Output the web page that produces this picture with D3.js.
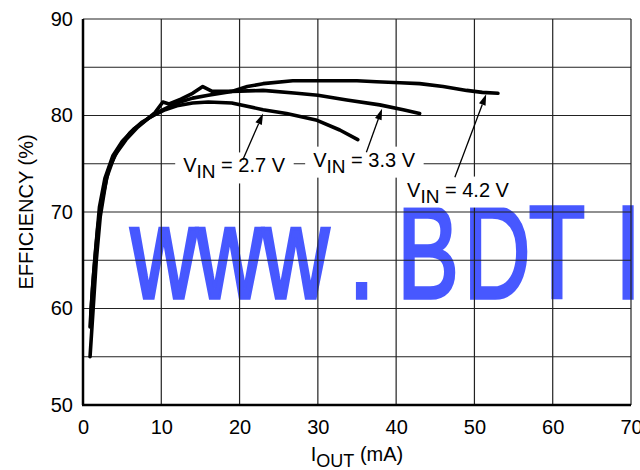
<!DOCTYPE html>
<html><head><meta charset="utf-8">
<script src="https://cdn.jsdelivr.net/npm/d3@7"></script>
<style>
html,body{margin:0;padding:0;background:#fff;}
svg{display:block;font-family:"Liberation Sans",Arial,sans-serif;}
</style></head>
<body><svg id="c" width="640" height="470"></svg>
<script>
// ---- data ----
const xTicks = [0,10,20,30,40,50,60,70];
const yTicks = [50,60,70,80,90];
const yGrid = [50,55,60,65,70,75,80,85,90];

const curve42 = [[0.9,55.0],[1.3,60],[1.7,65],[2.2,69.5],[3,73.5],[4,75.8],[5.5,77.5],[7,78.8],[8.5,79.8],[10,80.5],[12,81.3],[14,81.8],[16,82.1],[19,82.5],[21,83.0],[23,83.3],[26.8,83.6],[30,83.6],[35,83.6],[37.5,83.5],[40.5,83.4],[43,83.3],[46,83.0],[49,82.6],[51,82.4],[53,82.3]];
const curve33 = [[0.9,58.1],[1.2,62],[1.6,66],[2.1,70.5],[2.8,73.5],[3.8,75.8],[5,77.3],[6.5,78.6],[8,79.5],[9.2,80.3],[10.2,81.4],[11,81.2],[12.5,81.7],[14,82.3],[15.3,83.0],[16.5,82.5],[19,82.5],[23,82.6],[27.3,82.3],[30,82.1],[33.7,81.6],[37.9,81.1],[40.9,80.6],[43,80.2]];
const curve27 = [[1.0,59.5],[1.4,64],[1.9,68.5],[2.5,71.5],[3.3,74.5],[4.5,76.5],[6,78.2],[7.5,79.3],[9,80.0],[10.5,80.6],[12,81.0],[14,81.3],[16,81.4],[19,81.3],[23,80.6],[26,80.2],[29.9,79.5],[32.8,78.5],[35.1,77.5]];

const seriesNames = ["2.7 V","3.3 V","4.2 V"];
const seriesData = [curve27, curve33, curve42];
// annotation anchors in data units: label baseline start, arrow tail, arrow tip
const annotations = [
  {name:"2.7 V", lx:12.8, ly:74.1, tx:20.4, ty:75.4, px:23.0, py:80.2},
  {name:"3.3 V", lx:29.4, ly:74.7, tx:36.2, ty:76.2, px:38.2, py:80.7},
  {name:"4.2 V", lx:41.4, ly:71.6, tx:47.5, ty:73.6, px:51.5, py:82.2}
];
const watermark = "www.BDTI";

// ---- chart ----
const svg = d3.select("#c");
const x = d3.scaleLinear().domain([0,70]).range([83,631]);
const y = d3.scaleLinear().domain([50,90]).range([405,19]);

// watermark (under grid)
const sx = 0.7;
const wmTargets = [131,197,263,361.5,404,471,531,624];
const lsb = [0.006,0.006,0.006,0.139,0.073,0.079,0.023,0.094];
const fs = 132;
svg.append("text")
  .attr("transform", `scale(${sx},1)`)
  .attr("x", wmTargets.map((t,i)=> (t/sx - lsb[i]*fs).toFixed(1)).join(" "))
  .attr("y", 298.5)
  .attr("font-size", fs)
  .attr("fill", "#4758ff")
  .attr("stroke", "#4758ff")
  .attr("stroke-width", 3.6)
  .text(watermark);

// grid
const g = svg.append("g");
g.selectAll("line.v").data(xTicks).join("line")
  .attr("x1", d=>x(d)).attr("x2", d=>x(d)).attr("y1", y(50)).attr("y2", y(90))
  .attr("stroke", "#222").attr("stroke-width", 1.2);
g.selectAll("line.h").data(yGrid).join("line")
  .attr("x1", x(0)).attr("x2", x(70)).attr("y1", d=>y(d)).attr("y2", d=>y(d))
  .attr("stroke", "#222").attr("stroke-width", 1.2);

// curves
const line = d3.line().x(d=>x(d[0])).y(d=>y(d[1]));
svg.selectAll("path.curve").data(seriesData).join("path")
  .attr("d", line).attr("fill","none").attr("stroke","#000")
  .attr("stroke-width",3.6).attr("stroke-linejoin","round").attr("stroke-linecap","round");

// axes frame
svg.append("line").attr("x1",x(0)).attr("x2",x(0)).attr("y1",y(90)).attr("y2",y(50)).attr("stroke","#000").attr("stroke-width",2.5);
svg.append("line").attr("x1",x(0)-1).attr("x2",x(70)).attr("y1",y(50)).attr("y2",y(50)).attr("stroke","#000").attr("stroke-width",2.5);

const ax = svg.append("g").attr("transform",`translate(0,${y(50)})`)
  .call(d3.axisBottom(x).tickValues(xTicks).tickSize(0).tickPadding(15).tickFormat(d3.format("d")));
ax.select(".domain").remove();
const ay = svg.append("g").attr("transform",`translate(${x(0)},0)`)
  .call(d3.axisLeft(y).tickValues(yTicks).tickSize(0).tickPadding(10).tickFormat(d3.format("d")));
ay.select(".domain").remove();
svg.selectAll(".tick text").attr("font-size",20).attr("font-family","Liberation Sans, Arial, sans-serif").attr("fill","#000");

// axis titles
svg.append("text").attr("transform","translate(33,212) rotate(-90)").attr("text-anchor","middle")
  .attr("font-size",20).text("EFFICIENCY (%)");
const xt = svg.append("text").attr("x",357).attr("y",461).attr("text-anchor","middle").attr("font-size",20);
xt.append("tspan").text("I");
xt.append("tspan").attr("dy",6).attr("font-size",18).text("OUT");
xt.append("tspan").attr("dy",-6).text(" (mA)");

// annotations
annotations.forEach(a=>{
  const grp = svg.append("g");
  const box = grp.append("rect").attr("fill","#fff");
  const t = grp.append("text").attr("x",x(a.lx)).attr("y",y(a.ly)).attr("font-size",20);
  t.append("tspan").text("V");
  t.append("tspan").attr("dy",6).attr("font-size",19).text("IN");
  t.append("tspan").attr("dy",-6).text(" = " + a.name);
  const bb = t.node().getBBox();
  box.attr("x",bb.x-8).attr("y",bb.y-2).attr("width",bb.width+16).attr("height",bb.height+3);
  const x1=x(a.tx), y1=y(a.ty), x2=x(a.px), y2=y(a.py);
  const ang = Math.atan2(y2-y1,x2-x1);
  const L=11, W=3.5;
  const bx = x2 - L*Math.cos(ang), by = y2 - L*Math.sin(ang);
  grp.append("line").attr("x1",x1).attr("y1",y1).attr("x2",bx).attr("y2",by).attr("stroke","#000").attr("stroke-width",1.3);
  grp.append("path").attr("d",`M${x2},${y2}L${bx - W*Math.sin(ang)},${by + W*Math.cos(ang)}L${bx + W*Math.sin(ang)},${by - W*Math.cos(ang)}Z`).attr("fill","#000");
});
</script></body></html>
